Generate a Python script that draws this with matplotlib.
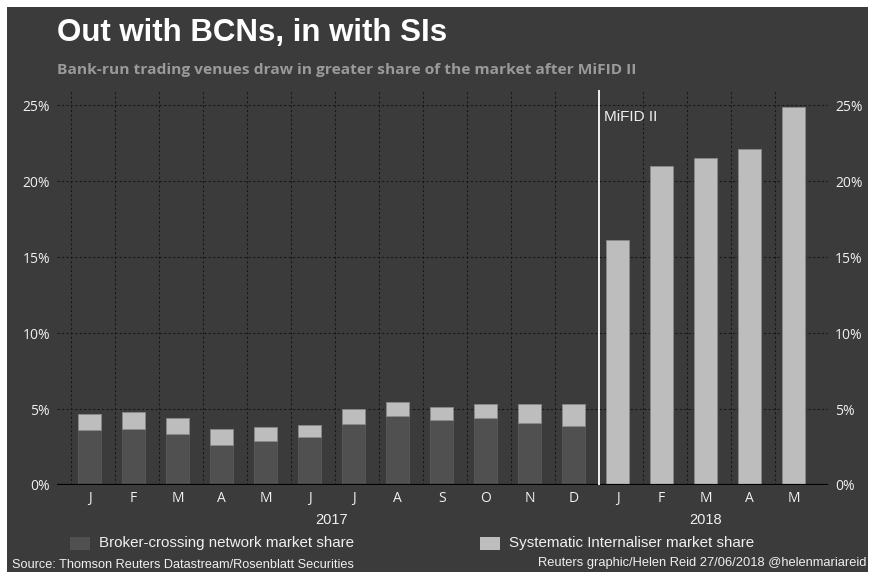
import matplotlib
matplotlib.use("Agg")
import matplotlib.pyplot as plt
from matplotlib import font_manager as fm
from matplotlib.patches import Rectangle
import numpy as np

# ---- data ----
months = ["J", "F", "M", "A", "M", "J", "J", "A", "S", "O", "N", "D", "J", "F", "M", "A", "M"]
bcn_share = [3.60, 3.67, 3.33, 2.64, 2.87, 3.18, 4.02, 4.51, 4.27, 4.42, 4.11, 3.89,
             0, 0, 0, 0, 0]
si_share = [1.07, 1.15, 1.09, 1.03, 0.93, 0.78, 0.96, 0.93, 0.86, 0.94, 1.25, 1.47,
            16.1, 21.0, 21.5, 22.1, 24.9]
y_ticks = [0, 5, 10, 15, 20, 25]
years = ["2017", "2018"]

names = {f.name for f in fm.fontManager.ttflist}
narrow = "Liberation Sans Narrow" if "Liberation Sans Narrow" in names else "Liberation Sans"
tickfont = "Open Sans" if "Open Sans" in names else "DejaVu Sans"

BG = "#3b3b3b"
DARKBAR = "#505050"
LIGHTBAR = "#bdbdbd"
TXT = "#f0f0f0"

W, H = 874, 572
fig = plt.figure(figsize=(W / 100, H / 100), dpi=100, facecolor="white")
fig.patches.append(Rectangle((7 / W, 0), (868 - 7) / W, (572 - 7) / H,
                             transform=fig.transFigure, facecolor=BG, edgecolor="none", zorder=-10))

ax = fig.add_axes([57 / W, 1 - 485 / H, (828 - 57) / W, (485 - 90) / H])
ax.set_facecolor(BG)
for s in ax.spines.values():
    s.set_visible(False)

x = np.arange(len(months))
bw = 0.53
ax.bar(x, bcn_share, width=bw, color=DARKBAR, edgecolor="#5a5a5a", linewidth=0.6, zorder=3)
ax.bar(x, si_share, width=bw, bottom=bcn_share, color=LIGHTBAR, edgecolor="#8a8a8a",
       linewidth=0.6, zorder=3)

ax.set_xlim(-0.74, 16.78)
ax.set_ylim(0, 26)

# gridlines
for yv in y_ticks[1:]:
    ax.axhline(yv, color="#181818", linestyle=(0, (2, 2)), linewidth=0.8, zorder=1)
for i in range(len(months)):
    if i == 12:
        continue
    ax.axvline(i - 0.42, color="#181818", linestyle=(0, (2, 2)), linewidth=0.8, zorder=1)
ax.axhline(0, color="black", linewidth=1.6, zorder=4)

# MiFID II line
ax.axvline(11.58, color="white", linewidth=1.3, zorder=5)
ax.text(11.68, 24.2, "MiFID II", color=TXT, fontsize=11, family="Liberation Sans",
        ha="left", va="center")

ax.set_xticks(x)
ax.set_xticklabels(months, color=TXT, fontsize=10, family=tickfont)
ax.set_yticks(y_ticks)
ax.set_yticklabels([f"{v}%" for v in y_ticks], color=TXT, fontsize=10, family=tickfont)
ax.tick_params(axis="both", length=0)
ax.tick_params(axis="x", pad=4)
ax.tick_params(axis="y", pad=5, labelright=True, labelleft=True)

# year labels
ax.text(5.5, -2.3, years[0], color=TXT, fontsize=10.5, family=narrow, ha="center", va="center")
ax.text(14.0, -2.3, years[1], color=TXT, fontsize=10.5, family=narrow, ha="center", va="center")

# titles
fig.text(57 / W, 1 - 33 / H, "Out with BCNs, in with SIs", color="white", fontsize=22.5,
         family=narrow, weight="bold", ha="left", va="center")
fig.text(57 / W, 1 - 70 / H,
         "Bank-run trading venues draw in greater share of the market after MiFID II",
         color="#9a9a9a", fontsize=11.15, family=tickfont, weight="bold", ha="left", va="center")

# legend
fig.patches.append(Rectangle((70 / W, 1 - 550 / H), 20 / W, 13 / H, transform=fig.transFigure,
                             facecolor=DARKBAR, edgecolor="none"))
fig.text(99 / W, 1 - 543 / H, "Broker-crossing network market share", color=TXT, fontsize=10.9,
         family=narrow, ha="left", va="center")
fig.patches.append(Rectangle((480 / W, 1 - 550 / H), 20 / W, 13 / H, transform=fig.transFigure,
                             facecolor=LIGHTBAR, edgecolor="none"))
fig.text(509 / W, 1 - 543 / H, "Systematic Internaliser market share", color=TXT, fontsize=10.9,
         family=narrow, ha="left", va="center")

# footer
fig.text(12 / W, 1 - 565 / H, "Source: Thomson Reuters Datastream/Rosenblatt Securities",
         color=TXT, fontsize=9.2, family=narrow, ha="left", va="center")
fig.text(866 / W, 1 - 563 / H, "Reuters graphic/Helen Reid 27/06/2018 @helenmariareid",
         color=TXT, fontsize=9.25, family=narrow, ha="right", va="center")

fig.savefig("out.png", dpi=100, facecolor="white")
